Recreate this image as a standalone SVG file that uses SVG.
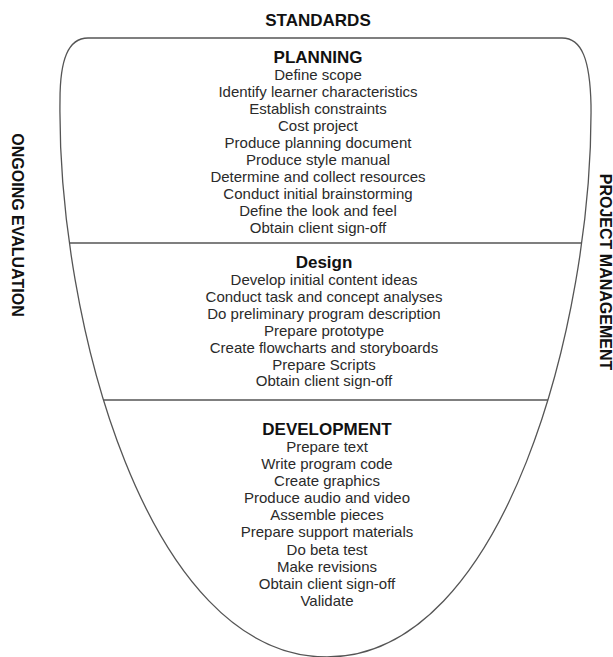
<svg xmlns="http://www.w3.org/2000/svg" width="613" height="657" viewBox="0 0 613 657">
  <style>
    .outline { fill: none; stroke: #555; stroke-width: 1.3; }
    .divider { stroke: #555; stroke-width: 1.3; }
    .head { font-family: "Liberation Sans", Arial, sans-serif; font-weight: bold; font-size: 17px; fill: #111; text-anchor: middle; }
    .item { font-family: "Liberation Sans", Arial, sans-serif; font-size: 15px; fill: #2a2a2a; text-anchor: middle; }
    .side { font-family: "Liberation Sans", Arial, sans-serif; font-weight: bold; font-size: 16px; fill: #111; text-anchor: middle; }
  </style>
  <defs>
    <!-- bucket-shaped outline shared by the stroke and the divider clip -->
    <path id="bucketPath" d="M 88,38 L 562,38 C 582,38 590,60 591,105 C 593,320 505,657 327,657 C 147,657 57,320 60,100 C 60,60 68,38 88,38 Z"/>
    <clipPath id="bucketClip">
      <use href="#bucketPath"/>
    </clipPath>
  </defs>
  <rect width="613" height="657" fill="#fff"/>

  <!-- outer labels -->
  <g id="standards"><text class="head" x="318" y="26">STANDARDS</text></g>
  <g id="ongoing-evaluation"><text class="side" transform="translate(12,225) rotate(90)">ONGOING EVALUATION</text></g>
  <g id="project-management"><text class="side" transform="translate(600,272) rotate(90)">PROJECT MANAGEMENT</text></g>

  <!-- bucket outline and phase dividers -->
  <g id="connectors">
    <use href="#bucketPath" class="outline"/>
    <g clip-path="url(#bucketClip)">
      <line class="divider" x1="0" y1="243" x2="613" y2="243"/>
      <line class="divider" x1="0" y1="400" x2="613" y2="400"/>
    </g>
  </g>

  <g id="planning">
    <text class="head" x="318" y="63">PLANNING</text>
    <text class="item" x="318" y="80">Define scope</text>
    <text class="item" x="318" y="97">Identify learner characteristics</text>
    <text class="item" x="318" y="114">Establish constraints</text>
    <text class="item" x="318" y="131">Cost project</text>
    <text class="item" x="318" y="148">Produce planning document</text>
    <text class="item" x="318" y="165">Produce style manual</text>
    <text class="item" x="318" y="182">Determine and collect resources</text>
    <text class="item" x="318" y="199">Conduct initial brainstorming</text>
    <text class="item" x="318" y="216">Define the look and feel</text>
    <text class="item" x="318" y="233">Obtain client sign-off</text>
  </g>

  <g id="design">
    <text class="head" x="324" y="268">Design</text>
    <text class="item" x="324" y="285">Develop initial content ideas</text>
    <text class="item" x="324" y="302">Conduct task and concept analyses</text>
    <text class="item" x="324" y="319">Do preliminary program description</text>
    <text class="item" x="324" y="336">Prepare prototype</text>
    <text class="item" x="324" y="353">Create flowcharts and storyboards</text>
    <text class="item" x="324" y="370">Prepare Scripts</text>
    <text class="item" x="324" y="386">Obtain client sign-off</text>
  </g>

  <g id="development">
    <text class="head" x="327" y="435">DEVELOPMENT</text>
    <text class="item" x="327" y="452">Prepare text</text>
    <text class="item" x="327" y="469">Write program code</text>
    <text class="item" x="327" y="486">Create graphics</text>
    <text class="item" x="327" y="503">Produce audio and video</text>
    <text class="item" x="327" y="520">Assemble pieces</text>
    <text class="item" x="327" y="537">Prepare support materials</text>
    <text class="item" x="327" y="555">Do beta test</text>
    <text class="item" x="327" y="572">Make revisions</text>
    <text class="item" x="327" y="589">Obtain client sign-off</text>
    <text class="item" x="327" y="606">Validate</text>
  </g>
</svg>
